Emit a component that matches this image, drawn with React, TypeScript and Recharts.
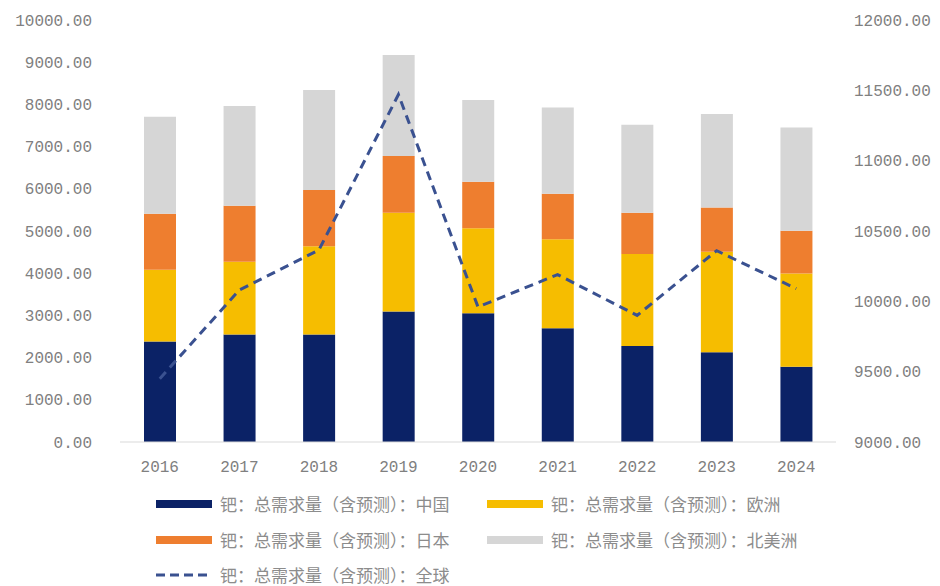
import { Bar, ComposedChart, Line, XAxis, YAxis } from "recharts";

const years = ["2016", "2017", "2018", "2019", "2020", "2021", "2022", "2023", "2024"];
const china = [2380, 2550, 2550, 3090, 3050, 2695, 2275, 2125, 1785];
const europe = [1700, 1720, 2090, 2345, 2015, 2110, 2180, 2385, 2210];
const japan = [1330, 1330, 1330, 1340, 1105, 1075, 980, 1045, 1010];
const northAmerica = [2300, 2360, 2370, 2395, 1935, 2045, 2080, 2220, 2450];
const globalTotal = [9450, 10080, 10365, 11470, 9960, 10190, 9900, 10360, 10090];

const leftTicks = [0, 1000, 2000, 3000, 4000, 5000, 6000, 7000, 8000, 9000, 10000];
const rightTicks = [9000, 9500, 10000, 10500, 11000, 11500, 12000];

const labels = {
  china: "钯：总需求量（含预测）：中国",
  europe: "钯：总需求量（含预测）：欧洲",
  japan: "钯：总需求量（含预测）：日本",
  northAmerica: "钯：总需求量（含预测）：北美洲",
  globalTotal: "钯：总需求量（含预测）：全球"
};

const COLORS = {
  china: "#0b2266",
  europe: "#f6bd00",
  japan: "#ee7e2f",
  northAmerica: "#d6d6d6",
  globalTotal: "#3a5190"
};

const data = years.map((year, i) => ({
  year,
  china: china[i],
  europe: europe[i],
  japan: japan[i],
  northAmerica: northAmerica[i],
  globalTotal: globalTotal[i]
}));

const tickStyle = { fontFamily: "'Liberation Mono', monospace", fontSize: 16, fill: "#808080" };
const fmt = (v: number) => v.toFixed(2);

type LegendEntry = { key: keyof typeof COLORS; left: number; top: number; dashed?: boolean };

const legendEntries: LegendEntry[] = [
  { key: "china", left: 156, top: 504 },
  { key: "europe", left: 487, top: 504 },
  { key: "japan", left: 156, top: 540 },
  { key: "northAmerica", left: 487, top: 540 },
  { key: "globalTotal", left: 156, top: 575, dashed: true }
];

function LegendItem({ entry }: { entry: LegendEntry }) {
  const color = COLORS[entry.key];
  return (
    <div
      style={{
        position: "absolute",
        left: entry.left,
        top: entry.top - 10,
        height: 20,
        display: "flex",
        alignItems: "center",
        whiteSpace: "nowrap"
      }}
    >
      {entry.dashed ? (
        <svg width={56} height={8}>
          <line x1={0} y1={4} x2={56} y2={4} stroke={color} strokeWidth={3} strokeDasharray="9 5" />
        </svg>
      ) : (
        <div style={{ width: 56, height: 8, background: color }} />
      )}
      <span
        style={{
          marginLeft: 8,
          fontFamily: "'Noto Sans CJK SC', sans-serif",
          fontSize: 17,
          lineHeight: "20px",
          color: "#8c8c8c"
        }}
      >
        {labels[entry.key]}
      </span>
    </div>
  );
}

export default function App() {
  return (
    <div style={{ position: "absolute", left: 0, top: 0, width: 940, height: 586, background: "#fff" }}>
      <ComposedChart width={940} height={482} data={data} margin={{ top: 20, right: 0, left: 0, bottom: 0 }}>
        <XAxis
          dataKey="year"
          height={40}
          tick={tickStyle}
          tickLine={false}
          tickSize={0}
          tickMargin={19}
          axisLine={{ stroke: "#d9d9d9" }}
        />
        <YAxis
          yAxisId="left"
          orientation="left"
          width={120}
          domain={[0, 10000]}
          ticks={leftTicks}
          tickFormatter={fmt}
          tick={tickStyle}
          tickLine={false}
          tickSize={0}
          tickMargin={28}
          axisLine={false}
          interval={0}
        />
        <YAxis
          yAxisId="right"
          orientation="right"
          width={104}
          domain={[9000, 12000]}
          ticks={rightTicks}
          tickFormatter={fmt}
          tick={tickStyle}
          tickLine={false}
          tickSize={0}
          tickMargin={18}
          axisLine={false}
          interval={0}
        />
        <Bar yAxisId="left" dataKey="china" stackId="a" fill={COLORS.china} barSize={32} isAnimationActive={false} />
        <Bar yAxisId="left" dataKey="europe" stackId="a" fill={COLORS.europe} barSize={32} isAnimationActive={false} />
        <Bar yAxisId="left" dataKey="japan" stackId="a" fill={COLORS.japan} barSize={32} isAnimationActive={false} />
        <Bar
          yAxisId="left"
          dataKey="northAmerica"
          stackId="a"
          fill={COLORS.northAmerica}
          barSize={32}
          isAnimationActive={false}
        />
        <Line
          yAxisId="right"
          type="linear"
          dataKey="globalTotal"
          stroke={COLORS.globalTotal}
          strokeWidth={3}
          strokeDasharray="9 6"
          dot={false}
          activeDot={false}
          isAnimationActive={false}
        />
      </ComposedChart>
      {legendEntries.map((entry) => (
        <LegendItem key={entry.key} entry={entry} />
      ))}
    </div>
  );
}
